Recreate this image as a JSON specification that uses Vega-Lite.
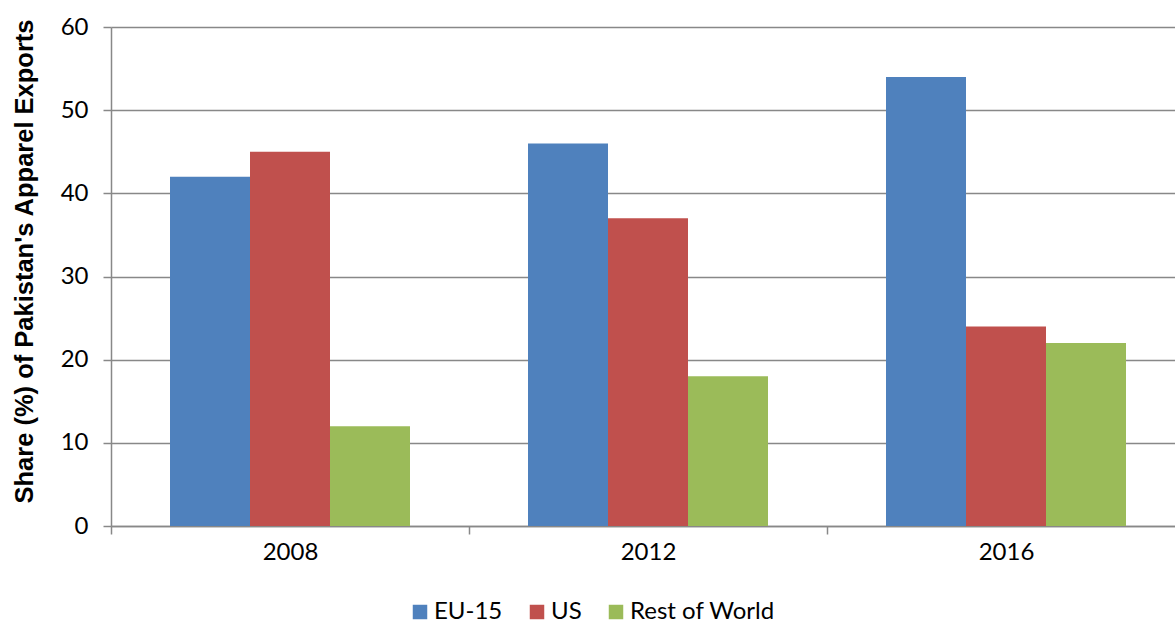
{
  "$schema": "https://vega.github.io/schema/vega-lite/v6.json",
  "autosize": {"type": "none"},
  "padding": {"left": 111, "top": 27, "right": 0, "bottom": 98},
  "width": 1064,
  "height": 499,
  "background": "white",
  "config": {
    "font": "Lato",
    "view": {"stroke": null},
    "axis": {
      "labelFont": "Lato",
      "labelFontSize": 24,
      "labelColor": "#000000",
      "domainColor": "#888888",
      "tickColor": "#888888",
      "gridColor": "#888888",
      "domainWidth": 1.5,
      "tickWidth": 1.5,
      "gridWidth": 1.5,
      "tickSize": 8
    },
    "legend": {
      "labelFont": "Lato",
      "labelFontSize": 24,
      "labelColor": "#000000"
    }
  },
  "data": {
    "values": [
      {"year": "2008", "region": "EU-15", "share": 42},
      {"year": "2008", "region": "US", "share": 45},
      {"year": "2008", "region": "Rest of World", "share": 12},
      {"year": "2012", "region": "EU-15", "share": 46},
      {"year": "2012", "region": "US", "share": 37},
      {"year": "2012", "region": "Rest of World", "share": 18},
      {"year": "2016", "region": "EU-15", "share": 54},
      {"year": "2016", "region": "US", "share": 24},
      {"year": "2016", "region": "Rest of World", "share": 22}
    ]
  },
  "mark": {"type": "bar"},
  "encoding": {
    "x": {
      "field": "year",
      "type": "nominal",
      "scale": {"range": [0, 1074], "paddingInner": 0, "paddingOuter": 0},
      "axis": {
        "title": null,
        "labelAngle": 0,
        "tickBand": "extent",
        "labelPadding": 6,
        "grid": false
      }
    },
    "xOffset": {
      "field": "region",
      "type": "nominal",
      "sort": ["EU-15", "US", "Rest of World"],
      "scale": {"paddingInner": 0, "paddingOuter": 0.7375}
    },
    "y": {
      "field": "share",
      "type": "quantitative",
      "scale": {"domain": [0, 60], "nice": false},
      "axis": {
        "title": "Share (%) of Pakistan's Apparel Exports",
        "titleFont": "Liberation Sans",
        "titleFontSize": 25.5,
        "titleFontWeight": "bold",
        "titleColor": "#000000",
        "titleAngle": -90,
        "titleAlign": "center",
        "titleBaseline": "middle",
        "titleX": -87,
        "titleY": 234,
        "values": [0, 10, 20, 30, 40, 50, 60],
        "labelPadding": 15,
        "grid": true
      }
    },
    "color": {
      "field": "region",
      "type": "nominal",
      "sort": ["EU-15", "US", "Rest of World"],
      "scale": {
        "domain": ["EU-15", "US", "Rest of World"],
        "range": ["#4F81BD", "#C0504D", "#9BBB59"]
      },
      "legend": {
        "title": null,
        "orient": "none",
        "direction": "horizontal",
        "legendX": 297,
        "legendY": 573,
        "symbolType": "square",
        "symbolSize": 210,
        "symbolStrokeWidth": 0,
        "labelOffset": 2,
        "columnPadding": 22
      }
    }
  }
}
